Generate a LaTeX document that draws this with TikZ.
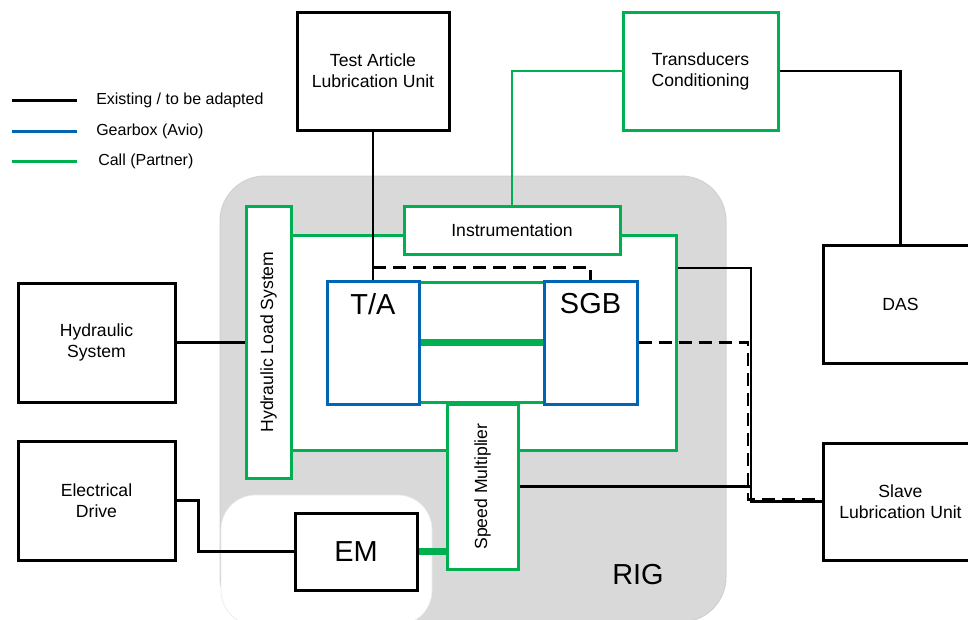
\documentclass[tikz,border=0pt]{standalone}
\usepackage{fontspec}
\setmainfont{Liberation Sans}
\usepackage{xcolor}
\usepackage{tikz}
\usetikzlibrary{calc,positioning}
\definecolor{callgreen}{HTML}{00B050}
\definecolor{avio}{HTML}{0066B3}
\definecolor{riggray}{HTML}{D9D9D9}
\newcommand{\bxfont}{\fontsize{13.2}{15.8}\selectfont}
\newcommand{\lgfont}{\fontsize{12}{14}\selectfont}
\newcommand{\bigfont}{\fontsize{21.7}{26}\selectfont}

\begin{document}
\begin{tikzpicture}[x=0.75pt,y=-0.75pt,
box/.style={draw,line width=2.25pt,fill=white,align=center,inner sep=0pt,font=\bxfont},
ex/.style={box,draw=black}, call/.style={box,draw=callgreen}, gbx/.style={box,draw=avio},
wire/.style={line width=2pt}, gwire/.style={wire,draw=callgreen},
shaft/.style={draw=callgreen,line width=5.25pt},
dashwire/.style={wire,dash pattern=on 9.75pt off 5.25pt},
lg/.style={anchor=west,inner sep=0pt,font=\lgfont}]
\useasboundingbox (0,0) rectangle (968,619);
\clip (0,0) rectangle (968,619);
% rig area
\filldraw[fill=riggray,draw=black!18,line width=0.75pt,rounded corners=33.75pt]
 (220,176) rectangle (726,622);
\filldraw[fill=white,draw=black!8,line width=0.5pt,rounded corners=26pt]
 (221,495) rectangle (432,625);
\node[font=\bigfont] (riglbl) at (638,575) {RIG};
% legend
\node[lg] (lgex) at (96,100) {Existing / to be adapted};
\node[lg] (lggb) at (96,131) {Gearbox (Avio)};
\node[lg] (lgcp) at (98,161) {Call (Partner)};
\draw[line width=2.25pt] ($(lgex.west)+(-84,0)$) -- ($(lgex.west)+(-19,0)$);
\draw[line width=2.25pt,avio] ($(lggb.west)+(-84,0)$) -- ($(lggb.west)+(-19,0)$);
\draw[line width=2.25pt,callgreen] ($(lgcp.west)+(-86,0)$) -- ($(lgcp.west)+(-21,0)$);
% outer units
\node[ex,minimum width=114pt,minimum height=88.5pt] (tlu) at (373,71) {Test Article\\Lubrication Unit};
\node[call,minimum width=116.25pt,minimum height=88.5pt] (tcond) at (700.5,71) {Transducers\\Conditioning};
\node[ex,minimum width=116.25pt,minimum height=88.5pt] (das) at (900.5,304) {DAS};
\node[ex,minimum width=116.25pt,minimum height=87.75pt] (slu) at (900.5,501.5) {Slave\\Lubrication Unit};
\node[ex,minimum width=117.75pt,minimum height=89.25pt] (hyd) at (96.5,342.5) {Hydraulic\\System};
\node[ex,minimum width=117.75pt,minimum height=89.25pt] (edrive) at (96.5,500.5) {Electrical\\Drive};
% rig contents (rotated boxes: north = left side, south = right side)
\node[call,minimum width=288.75pt,minimum height=161.25pt] (frame) at (483.5,342.5) {};
\node[call,rotate=90,minimum width=204pt,minimum height=33.75pt] (hls) at (268.5,342) {Hydraulic Load System};
\node[call,minimum width=162pt,minimum height=36pt] (instr) at (512,230) {Instrumentation};
\node[call,rotate=90,minimum width=123.75pt,minimum height=53.25pt] (spm) at (482.5,486.5) {Speed Multiplier};
\node[ex,font=\bigfont,minimum width=91.5pt,minimum height=57.75pt] (em) at (356,551.5) {EM};
\node[gbx,minimum width=69pt,minimum height=92.25pt] (ta) at (373,342.5) {};
\node[gbx,minimum width=69.75pt,minimum height=92.25pt] (sgb) at (590.5,342.5) {};
\draw[callgreen,line width=2.25pt] ([yshift=-2.6pt]ta.north east) -- ([yshift=-2.6pt]sgb.north west)
 ([yshift=1.9pt]ta.south east) -- ([yshift=1.9pt]sgb.south west);
\node[gbx,minimum width=69pt,minimum height=92.25pt,
 label={[font=\bigfont,anchor=north,inner sep=0pt,yshift=-10.5pt]north:T/A}] at (ta) {};
\node[gbx,minimum width=69.75pt,minimum height=92.25pt,
 label={[font=\bigfont,anchor=north,inner sep=0pt,yshift=-10.5pt]north:SGB}] at (sgb) {};
\draw[shaft] (ta.east) -- (sgb.west);
\draw[shaft] (em.east) -- (em.east -| spm.north);
% connectors
\coordinate (bus) at (751,268);
\draw[wire] (tlu.south) -- (ta.north);
\draw[dashwire] (ta.north) ++(0,-12) -| (sgb.north);
\draw[gwire] (instr.north) |- (tcond.west);
\draw[wire] (tcond.east) -| (das.north);
\draw[wire] (hyd.east) -- (hyd.east -| hls.north);
\draw[wire] (edrive.east) -- ++(22,0) |- (em.west);
\draw[wire] (frame.east |- bus) -- (bus) |- (slu.west);
\draw[wire] (spm.south) -- (spm.south -| bus);
\draw[dashwire] (sgb.east) -- ($(sgb.east -| bus)+(-3,0)$) |- ($(slu.west)+(0,-2)$);
\end{tikzpicture}
\end{document}
